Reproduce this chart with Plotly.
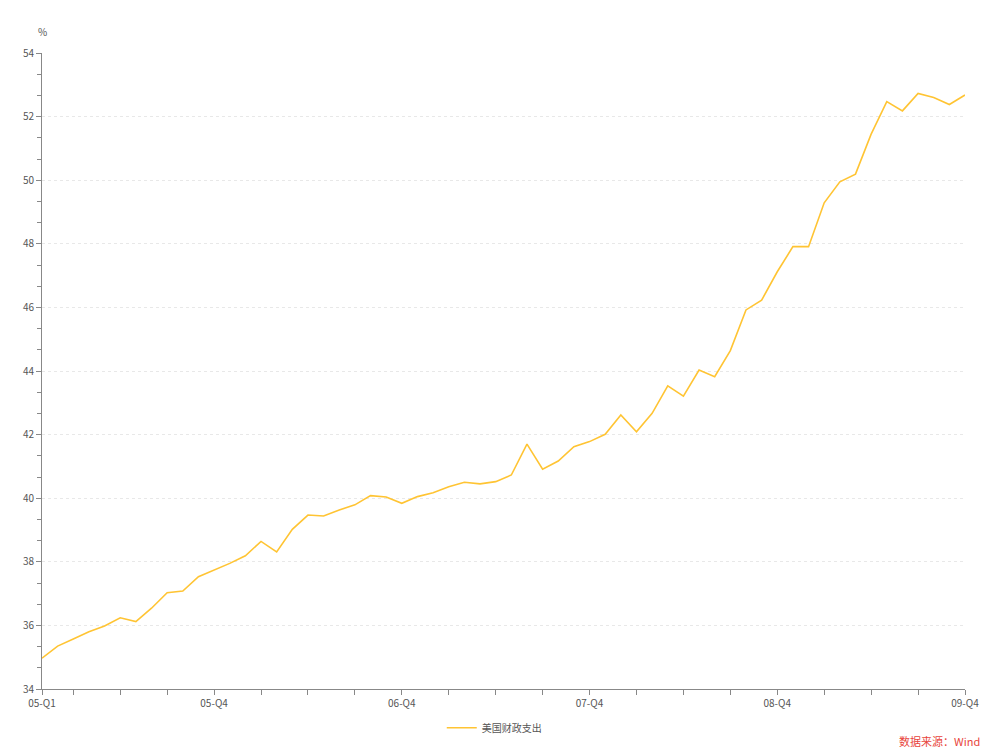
import plotly.graph_objects as go

# Monthly periods Jan 2005 .. Dec 2009
months = [f"{y}-{m:02d}" for y in range(2005, 2010) for m in range(1, 13)]

values = [
    34.97, 35.35, 35.57, 35.80, 35.98, 36.24, 36.12, 36.54, 37.03, 37.08,
    37.53, 37.74, 37.95, 38.19, 38.64, 38.31, 39.02, 39.47, 39.44, 39.63,
    39.79, 40.08, 40.04, 39.84, 40.05, 40.17, 40.36, 40.50, 40.45, 40.52,
    40.73, 41.70, 40.91, 41.17, 41.62, 41.78, 42.01, 42.62, 42.09, 42.67,
    43.53, 43.21, 44.03, 43.82, 44.64, 45.92, 46.23, 47.12, 47.91, 47.91,
    49.29, 49.95, 50.19, 51.45, 52.47, 52.18, 52.73, 52.60, 52.38, 52.68,
]

series_name = "美国财政支出"

# tick positions (every 3rd month plus the first) and labels
tick_idx = [0] + list(range(2, 60, 3))
label_map = {0: "05-Q1", 11: "05-Q4", 23: "06-Q4", 35: "07-Q4", 47: "08-Q4", 59: "09-Q4"}
tick_vals = [months[i] for i in tick_idx]
tick_text = [label_map.get(i, "") for i in tick_idx]

font_family = "Segoe UI, Noto Sans CJK SC, Noto Sans, sans-serif"

fig = go.Figure()
fig.add_trace(go.Scatter(
    x=months, y=values, mode="lines", name=series_name,
    line=dict(color="#FFC433", width=1.6),
))

fig.update_layout(
    width=992, height=746,
    margin=dict(l=34, r=35, t=45, b=65),
    paper_bgcolor="white", plot_bgcolor="white",
    font=dict(family=font_family, size=11, color="#555"),
    showlegend=True,
    legend=dict(orientation="h", x=0.49, xanchor="center", y=-0.061, yanchor="middle",
                font=dict(size=10, color="#555"), itemwidth=30),
    annotations=[
        dict(text="%", xref="paper", yref="paper", x=0, y=1.0, xanchor="center",
             yanchor="bottom", yshift=12, showarrow=False, font=dict(size=10, color="#555")),
        dict(text="数据来源：Wind", xref="paper", yref="paper", x=1.018, y=-0.082,
             xanchor="right", yanchor="middle", showarrow=False,
             font=dict(size=11, color="#E8453C")),
    ],
)

fig.update_xaxes(
    type="category", range=[0, 59],
    tickmode="array", tickvals=tick_vals, ticktext=tick_text,
    ticks="outside", ticklen=5, tickcolor="#888",
    showline=True, linecolor="#888", linewidth=1,
    showgrid=False, zeroline=False,
    tickfont=dict(size=10, color="#555"),
)
fig.update_yaxes(
    range=[34, 54], dtick=2, tick0=34,
    ticks="outside", ticklen=5, tickcolor="#888",
    showline=True, linecolor="#888", linewidth=1,
    showgrid=True, gridcolor="#e8e8e8", griddash="dot", gridwidth=1,
    zeroline=False,
    minor=dict(dtick=2/3, tick0=34, ticks="outside", ticklen=4, tickcolor="#888", showgrid=False),
    tickfont=dict(size=10, color="#555"),
)

fig.write_html("out.html")
